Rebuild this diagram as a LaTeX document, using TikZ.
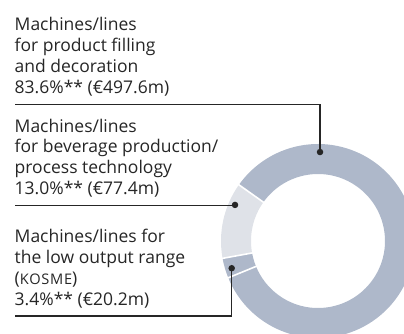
\documentclass[tikz,border=0pt]{standalone}
\usepackage{fontspec}
\setmainfont{Open Sans}
\definecolor{ringdark}{HTML}{AEB8CA}
\definecolor{ringlight}{HTML}{DFE2E8}
\definecolor{ink}{HTML}{262626}
\newcommand\smallcapsfake[1]{{\fontsize{14.6}{21}\selectfont\addfontfeature{LetterSpace=5}#1}}
\begin{document}
\begin{tikzpicture}[x=1pt,y=1pt,
  blocktext/.style={anchor=base west, align=left, inner sep=0pt, text=ink,
    font=\fontsize{17.5}{20.8}\selectfont},
  leader/.style={draw=ink, line width=1.3pt},
  dot/.style={circle, fill=ink, inner sep=0pt, minimum size=6.5pt},
  sep/.style={draw=white, line width=1.6pt}]
\useasboundingbox (0,0) rectangle (404,-333);

% ring segments (angles counter-clockwise from east)
\begin{scope}[shift={(318,-241)}]
  \fill[ringdark] (202.3:97) arc[start angle=202.3, end angle=504.6, radius=97]
    -- (144.6:67) arc[start angle=504.6, end angle=202.3, radius=67] -- cycle;
  \fill[ringlight] (144.6:97) arc[start angle=144.6, end angle=190.3, radius=97]
    -- (190.3:67) arc[start angle=190.3, end angle=144.6, radius=67] -- cycle;
  \fill[ringdark] (190.3:97) arc[start angle=190.3, end angle=202.3, radius=97]
    -- (202.3:67) arc[start angle=202.3, end angle=190.3, radius=67] -- cycle;
  \draw[sep] (144.6:66) -- (144.6:98);
  \draw[sep] (190.3:66) -- (190.3:98);
  \draw[sep] (202.3:66) -- (202.3:98);
  \coordinate (p1) at (88.7:89);
  \coordinate (p2) at (156.5:90.5);
  \coordinate (p3) at (197.5:90.5);
\end{scope}

% labels (anchored at the baseline of their last line)
\node[blocktext] (t1) at (14.5,-93)
  {Machines/lines\\for product filling\\and decoration\\83.6\%** (€497.6m)};
\node[blocktext] (t2) at (14.5,-194.5)
  {Machines/lines\\for beverage production/\\process technology\\13.0\%** (€77.4m)};
\node[blocktext] (t3) at (14.5,-305)
  {Machines/lines for\\the low output range\\(\smallcapsfake{KOSME})\\3.4\%** (€20.2m)};

% leader lines from the underline start to the ring dots
\coordinate (l1) at (15,-104.5);
\coordinate (l2) at (15,-205.5);
\coordinate (l3) at (15,-316);
\draw[leader] (l1) -| (p1);
\draw[leader] (l2) -- (l2 -| p2);
\draw[leader] (l3) -| (p3);
\node[dot] (d1) at (p1) {};
\node[dot] (d2) at (p2) {};
\node[dot] (d3) at (p3) {};
\end{tikzpicture}
\end{document}
